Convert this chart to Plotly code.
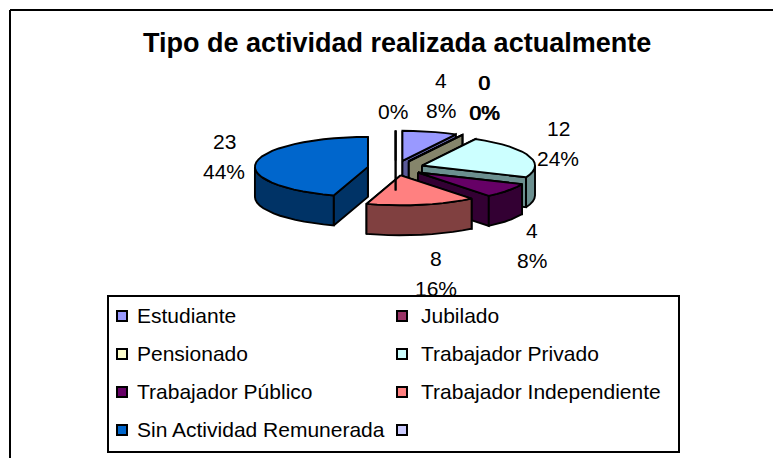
import math
import plotly.graph_objects as go

# ---- data ----
categories = ["Estudiante", "Jubilado", "Pensionado", "Trabajador Privado",
              "Trabajador Público", "Trabajador Independiente",
              "Sin Actividad Remunerada", ""]
values = [4, 0, 0, 12, 4, 8, 23, 0]
percent_labels = ["8%", "0%", "0%", "24%", "8%", "16%", "44%", "0%"]
value_labels = ["4", "0", "0", "12", "4", "8", "23", ""]
title_text = "Tipo de actividad realizada actualmente"

# ---- styles ----
top_colors = ["#9999FF", "#993366", "#FFFFCC", "#CCFFFF",
              "#660066", "#FF8080", "#0066CC", "#CCCCFF"]
side_colors = ["#5A5A99", "#4D1A33", "#85856B", "#6B8F8F",
               "#330033", "#804040", "#003366", "#66667F"]
FONT = "Liberation Sans, Arial, sans-serif"
W, H = 773, 458

# ---- pie projection (pixel space) ----
CX, CY = 395.6, 168.0
RX, RY = 113.0, 30.0
DEPTH = 30.0
EXPLODE = 28.0
LINE_W = 1.9


def ell(a, cx, cy, dy=0.0):
    r = math.radians(a)
    return cx + RX * math.sin(r), cy - RY * math.cos(r) + dy


def arc(a0, a1, cx, cy, dy=0.0):
    n = max(2, int(abs(a1 - a0) / 6) + 2)
    return [ell(a0 + (a1 - a0) * i / (n - 1), cx, cy, dy) for i in range(n)]


fig = go.Figure()


def poly(points, fill):
    xs = [p[0] for p in points] + [points[0][0]]
    ys = [p[1] for p in points] + [points[0][1]]
    fig.add_trace(go.Scatter(x=xs, y=ys, mode="lines", fill="toself",
                             fillcolor=fill, showlegend=False, hoverinfo="skip",
                             line=dict(color="black", width=LINE_W)))


total = sum(values)
cum = 0.0
for val, top, side in zip(values, top_colors, side_colors):
    a0 = cum / total * 360.0
    a1 = (cum + val) / total * 360.0
    cum += val
    mid = math.radians((a0 + a1) / 2)
    cx = CX + EXPLODE * math.sin(mid)
    cy = CY - EXPLODE * RY / RX * math.cos(mid)
    apex, apex_low = (cx, cy), (cx, cy + DEPTH)
    # cut faces
    for ang in (a0, a1):
        poly([apex, ell(ang, cx, cy), ell(ang, cx, cy, DEPTH), apex_low], side)
    # outer rim, front half only
    lo, hi = max(a0, 90.0), min(a1, 270.0)
    if hi > lo:
        poly(arc(lo, hi, cx, cy) + arc(hi, lo, cx, cy, DEPTH), side)
    # top
    if val > 0:
        poly([apex] + arc(a0, a1, cx, cy), top)
    else:
        poly([apex, ell(a0, cx, cy)], top)

# ---- data labels ----
LABEL_SIZE = 21
LINE_GAP = 15
label_pos = [(441, 95), (484, 97), (484, 97), (558, 143),
             (532, 245), (436, 273), (224, 156), (393, 111)]
annotations = []


def text_note(x, y, text, size, anchor="center"):
    annotations.append(dict(x=x, y=y, text=text, showarrow=False, xref="x", yref="y",
                            xanchor=anchor, yanchor="middle",
                            font=dict(family=FONT, size=size, color="black")))


for i, (vl, pl, (lx, ly)) in enumerate(zip(value_labels, percent_labels, label_pos)):
    shift = 0.5 if i == 2 else 0
    if vl:
        text_note(lx + shift, ly - LINE_GAP, vl, LABEL_SIZE)
        text_note(lx + shift, ly + LINE_GAP, pl, LABEL_SIZE)
    else:
        text_note(lx, ly, pl, LABEL_SIZE)

# ---- title ----
text_note(396.5, 43, f"<b>{title_text}</b>", 27)

# ---- legend ----
leg_x = [122, 402]
leg_txt_x = [135, 419]
leg_y = [316, 354, 392, 430]
mx, my = [], []
for i, (name, col) in enumerate(zip(categories, top_colors)):
    c, r = i % 2, i // 2
    mx.append(leg_x[c])
    my.append(leg_y[r])
    if name:
        text_note(leg_txt_x[c], leg_y[r] - 1, name, 21, anchor="left")
shapes = [
    dict(type="rect", x0=108, y0=296, x1=679, y1=452, xref="x", yref="y",
         line=dict(color="black", width=2), fillcolor="white", layer="below"),
    dict(type="line", x0=10, y0=10, x1=W + 5, y1=10, xref="x", yref="y",
         line=dict(color="black", width=2)),
    dict(type="line", x0=10, y0=10, x1=10, y1=H + 5, xref="x", yref="y",
         line=dict(color="black", width=2)),
]
fig.add_trace(go.Scatter(x=mx, y=my, mode="markers", showlegend=False, hoverinfo="skip",
                         marker=dict(symbol="square", size=10, color=top_colors,
                                     line=dict(color="black", width=2))))

fig.update_layout(
    width=W, height=H, margin=dict(l=0, r=0, t=0, b=0), autosize=False,
    paper_bgcolor="white", plot_bgcolor="white", showlegend=False,
    xaxis=dict(range=[0, W], visible=False, fixedrange=True),
    yaxis=dict(range=[H, 0], visible=False, fixedrange=True),
    annotations=annotations, shapes=shapes,
)
fig.write_html("out.html", config=dict(displayModeBar=False),
               post_script="document.body.style.margin='0';")
